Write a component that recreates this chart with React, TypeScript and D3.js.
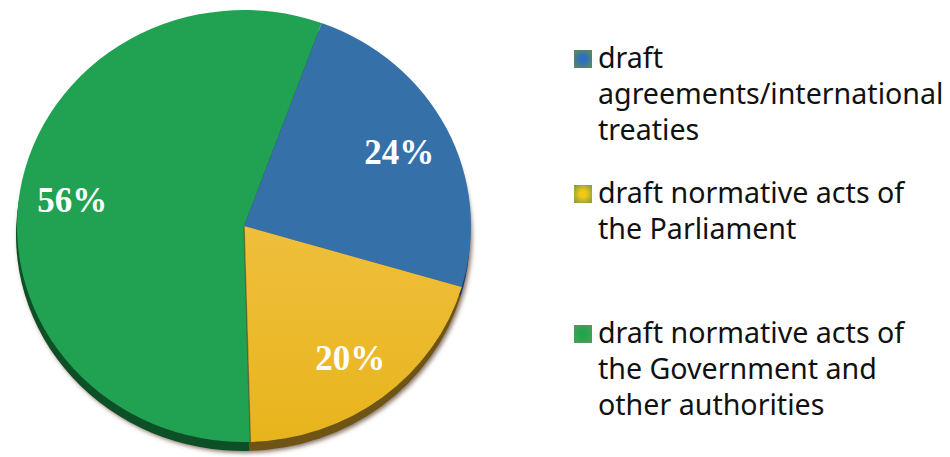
import React from "react";
import * as d3 from "d3";

const categories = [
  "draft agreements/international treaties",
  "draft normative acts of the Parliament",
  "draft normative acts of the Government and other authorities",
];
const values = [24, 20, 56];
const valueLabels = ["24%", "20%", "56%"];
const legendLines = [
  ["draft", "agreements/international", "treaties"],
  ["draft normative acts of", "the Parliament"],
  ["draft normative acts of", "the Government and", "other authorities"],
];
const topColors = ["#3570a9", "#eab826", "#21a152"];
const sideColors = ["#1d4063", "#6e5414", "#0b5026"];
const legendY = [68, 203, 343];

const W = 950;
const H = 457;
const cx = 244;
const cy = 226;
const rx = 227;
const ry = 216;
const depth = 9;
const startDeg = 20;

export default function App() {
  const pie = d3
    .pie<number>()
    .sort(null)
    .startAngle((startDeg * Math.PI) / 180)
    .endAngle((startDeg * Math.PI) / 180 + 2 * Math.PI);
  const arcs = pie(values);
  const arc = d3.arc<d3.PieArcDatum<number>>().innerRadius(0).outerRadius(rx);
  const labelArc = d3
    .arc<d3.PieArcDatum<number>>()
    .innerRadius(174)
    .outerRadius(174);
  const sy = ry / rx;

  return (
    <svg
      width={W}
      height={H}
      style={{ position: "absolute", left: 0, top: 0, background: "#fff" }}
    >
      <defs>
        <filter id="sh" x="-10%" y="-10%" width="120%" height="125%">
          <feDropShadow dx="2" dy="2" stdDeviation="2" floodColor="#5a3a28" floodOpacity="0.7" />
        </filter>
        <linearGradient id="yel" x1="0" y1="0" x2="0" y2="1">
          <stop offset="0" stopColor="#efbf3c" />
          <stop offset="1" stopColor="#e8b41c" />
        </linearGradient>
        <radialGradient id="lg0" cx="0.5" cy="0.5" r="0.6">
          <stop offset="0.3" stopColor="#2f6fc0" />
          <stop offset="1" stopColor="#5a8a5a" />
        </radialGradient>
        <radialGradient id="lg1" cx="0.5" cy="0.5" r="0.6">
          <stop offset="0.3" stopColor="#f0c818" />
          <stop offset="1" stopColor="#8fa040" />
        </radialGradient>
        <radialGradient id="lg2" cx="0.5" cy="0.5" r="0.6">
          <stop offset="0.3" stopColor="#22a64a" />
          <stop offset="1" stopColor="#4f9a5a" />
        </radialGradient>
      </defs>
      {/* side / depth */}
      <g
        transform={`translate(${cx - 1},${cy + depth}) scale(1,${sy})`}
        filter="url(#sh)"
      >
        {arcs.map((a, i) => (
          <path key={i} d={arc(a) || ""} fill={sideColors[i]} />
        ))}
      </g>
      {/* top face */}
      <g transform={`translate(${cx},${cy}) scale(1,${sy})`}>
        {arcs.map((a, i) => (
          <path
            key={i}
            d={arc(a) || ""}
            fill={i === 1 ? "url(#yel)" : topColors[i]}
          />
        ))}
        <line
          x1={0}
          y1={0}
          x2={0}
          y2={-rx}
          stroke="#5a4a30"
          strokeOpacity={0.55}
          strokeWidth={1.5}
          transform={`rotate(${(arcs[1].endAngle * 180) / Math.PI})`}
        />
      </g>
      {arcs.map((a, i) => {
        const [lx, ly] = labelArc.centroid(a);
        return (
          <text
            key={i}
            x={cx + lx}
            y={cy + ly * sy}
            dy="0.36em"
            textAnchor="middle"
            fill="#fff"
            fontFamily="'Liberation Serif', 'Times New Roman', serif"
            fontWeight="bold"
            fontSize={35}
          >
            {valueLabels[i]}
          </text>
        );
      })}
      {/* legend */}
      {categories.map((c, i) => (
        <g key={c}>
          <rect
            x={574}
            y={legendY[i] - 18}
            width={18}
            height={18}
            fill={`url(#lg${i})`}
          />
          <text
            fontFamily="'Noto Sans', 'Open Sans', sans-serif"
            fontSize={28.6}
            fill="#111"
          >
            {legendLines[i].map((ln, j) => (
              <tspan key={j} x={598} y={legendY[i] + j * 36}>
                {ln}
              </tspan>
            ))}
          </text>
        </g>
      ))}
    </svg>
  );
}
